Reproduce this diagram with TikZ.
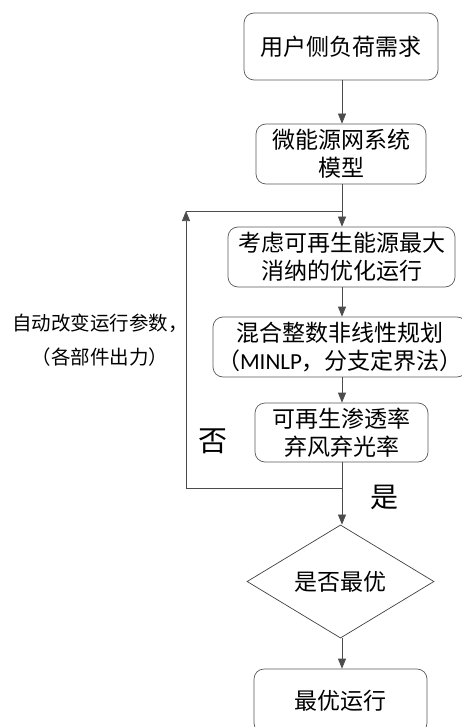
\documentclass[tikz,border=0pt]{standalone}
\usepackage{fontspec}
\setmainfont{Noto Sans CJK SC}
\newfontfamily\latfont{Carlito}
\usetikzlibrary{shapes.geometric,arrows.meta}
\begin{document}
\begin{tikzpicture}[x=1pt,y=-1pt,
  line/.style={draw=black!70, line width=0.7pt},
  arr/.style={line, -{Triangle[length=10pt,width=8pt]}},
  box/.style={draw=black!65, line width=0.7pt, rounded corners=10pt, align=center,
    inner sep=0pt, font=\fontsize{23}{28}\selectfont},
  dia/.style={draw=black!75, line width=0.7pt, diamond, align=center, inner sep=0pt,
    font=\fontsize{23}{28}\selectfont},
  lbl/.style={align=center, inner sep=0pt}]
\useasboundingbox (0,0) rectangle (462,727);
\clip (0,0) rectangle (462,727);
\node[box, minimum width=194pt, minimum height=67pt] (b1) at (341,46.5) {用户侧负荷需求};
\node[box, minimum width=170pt, minimum height=60pt] (b2) at (341,154) {微能源网系统\\模型};
\node[box, minimum width=227pt, minimum height=60pt] (b3) at (341.5,257) {考虑可再生能源最大\\消纳的优化运行};
\node[box, minimum width=254pt, minimum height=60pt] (b4) at (340,347) {混合整数非线性规划\\（{\latfont MINLP}，分支定界法）};
\node[box, minimum width=173pt, minimum height=59pt] (b5) at (341.5,432.5) {可再生渗透率\\弃风弃光率};
\node[dia, minimum width=187pt, minimum height=99pt] (d) at (340.5,581.5) {是否最优};
\node[box, minimum width=173pt, minimum height=64pt] (b6) at (340.5,701) {最优运行};
\coordinate (j1) at (342,488);
\coordinate (c1) at (186,488);
\coordinate (c2) at (186,211);
\coordinate (j2) at (342,211);
\draw[arr] (b1.south -| j2) -- (b2.north -| j2);
\draw[arr] (b2.south -| j2) -- (b3.north -| j2);
\draw[arr] (b3.south -| j2) -- (b4.north -| j2);
\draw[arr] (b4.south -| j2) -- (b5.north -| j2);
\draw[arr] (b5.south -| j2) -- (d.north -| j2);
\draw[arr] (d.south -| j2) -- (b6.north -| j2);
\draw[arr] (j1) -- (c1) -- (c2);
\draw[line] (c2) -- (j2);
\node[lbl, font=\fontsize{19.5}{34}\selectfont] (t1) at (100,340) {自动改变运行参数，\\（各部件出力）};
\node[lbl, font=\fontsize{29}{30}\selectfont] (no) at (213,441) {否};
\node[lbl, font=\fontsize{28}{30}\selectfont] (yes) at (384,497) {是};
\end{tikzpicture}
\end{document}
